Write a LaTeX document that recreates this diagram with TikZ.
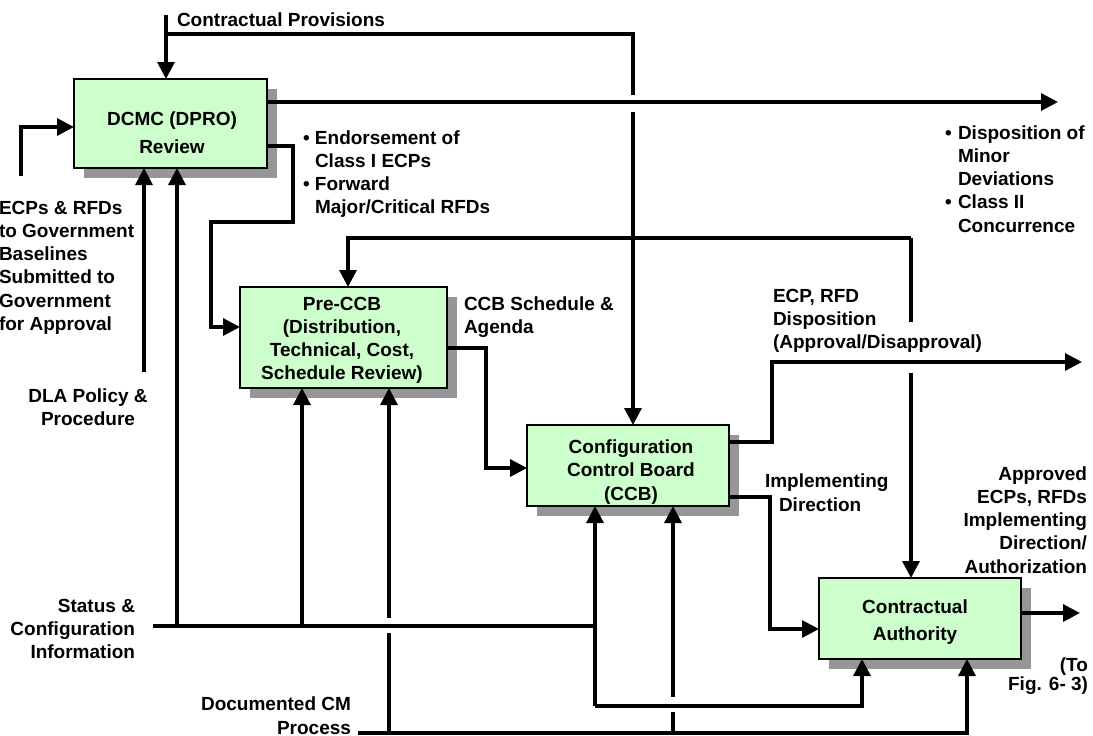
\documentclass[tikz,border=0pt]{standalone}
\usepackage{fontspec}
\setmainfont{Liberation Sans}
\usetikzlibrary{arrows.meta,shadows}
\definecolor{boxgreen}{RGB}{204,255,204}
\definecolor{shadowgray}{RGB}{150,150,150}
% bullet with hanging indent for the list labels
\newcommand{\itembul}[1][12pt]{\makebox[#1][l]{\textbullet}}
\newcommand{\itemind}[1][12pt]{\hspace*{#1}}
\begin{document}
\begin{tikzpicture}[x=1pt,y=-1pt,
  every node/.style={inner sep=0pt, outer sep=0pt},
  lbl/.style={font=\bfseries\fontsize{19}{23.3}\selectfont},
  box/.style={draw=black, line width=1.3pt, fill=boxgreen,
    drop shadow={shadow xshift=10pt, shadow yshift=-10pt, fill=shadowgray, opacity=1}},
  wire/.style={line width=3.2pt},
  flow/.style={wire, -{Triangle[length=17pt,width=17pt]}},
  gap/.style={fill=white}
]
\fill[white] (0,0) rectangle (1093,736);
\useasboundingbox (0,0) rectangle (1093,736);

% process boxes
\node[box, minimum width=193pt, minimum height=89pt] (dcmc) at (170.5,123.5) {};
\node[box, minimum width=207pt, minimum height=101pt] (preccb) at (343.5,337.5) {};
\node[box, minimum width=202pt, minimum height=81pt] (ccb) at (628,465.5) {};
\node[box, minimum width=202pt, minimum height=81pt] (ca) at (920,618.5) {};

% box titles (anchored on the baseline of their last line)
\node[lbl, align=center, anchor=base, font=\bfseries\fontsize{19}{28}\selectfont] (dcmcT) at (172,153) {DCMC (DPRO)\\Review};
\node[lbl, align=center, anchor=base, font=\bfseries\fontsize{19}{23}\selectfont] (preccbT) at (342,379) {Pre-CCB\\(Distribution,\\Technical, Cost,\\Schedule Review)};
\node[lbl, align=center, anchor=base, font=\bfseries\fontsize{19}{23.5}\selectfont] (ccbT) at (631,500) {Configuration\\Control Board\\(CCB)};
\node[lbl, align=center, anchor=base, font=\bfseries\fontsize{19}{27}\selectfont] (caT) at (915,640) {Contractual\\Authority};

% connector corner points
\coordinate (cpTop) at (166,15);
\coordinate (cpJ) at (166,34);
\coordinate (cpR) at (633,34);
\coordinate (dispEnd) at (1058,102);
\coordinate (fwA) at (293,146);
\coordinate (fwB) at (293,222);
\coordinate (fwC) at (211,222);
\coordinate (fwD) at (211,327);
\coordinate (ecpIn) at (21,176);
\coordinate (ecpB) at (21,127);
\coordinate (dlaIn) at (144,372);
\coordinate (stIn) at (153,626);
\coordinate (stJ1) at (177,626);
\coordinate (stJ2) at (302,626);
\coordinate (stJ3) at (595,626);
\coordinate (stB) at (595,706);
\coordinate (stC) at (862,706);
\coordinate (cmIn) at (358,733);
\coordinate (cmJ1) at (389,733);
\coordinate (cmJ2) at (673,733);
\coordinate (cmC) at (967,733);
\coordinate (schA) at (486,348);
\coordinate (schB) at (486,468);
\coordinate (loopA) at (911,238);
\coordinate (loopB) at (348,238);
\coordinate (dispA) at (772,442);
\coordinate (dispB) at (772,362);
\coordinate (dispEnd2) at (1082,362);
\coordinate (impA) at (770,497);
\coordinate (impB) at (770,629);
\coordinate (caOut) at (1080,613);

% connectors
\draw[flow] (cpTop) -- (cpTop |- dcmc.north);
\draw[flow] (cpJ) -- (cpR) -- (cpR |- ccb.north);
\draw[flow] (dcmc.east |- dispEnd) -- (dispEnd);
\draw[flow] (dcmc.east |- fwA) -- (fwA) -- (fwB) -- (fwC) -- (fwD) -- (preccb.west |- fwD);
\draw[flow] (ecpIn) -- (ecpB) -- (dcmc.west |- ecpB);
\draw[flow] (dlaIn) -- (dlaIn |- dcmc.south);
\draw[wire] (stIn) -- (stJ3) -- (stB);
\draw[flow] (stJ1) -- (stJ1 |- dcmc.south);
\draw[flow] (stJ2) -- (stJ2 |- preccb.south);
\draw[flow] (stB) -- (stB |- ccb.south);
\draw[flow] (stB) -- (stC) -- (stC |- ca.south);
\draw[flow] (cmIn) -- (cmC) -- (cmC |- ca.south);
\draw[flow] (cmJ1) -- (cmJ1 |- preccb.south);
\draw[flow] (cmJ2) -- (cmJ2 |- ccb.south);
\draw[flow] (preccb.east |- schA) -- (schA) -- (schB) -- (ccb.west |- schB);
\draw[flow] (loopA) -- (loopB) -- (loopB |- preccb.north);
\draw[flow] (loopA) -- (loopA |- ca.north);
\draw[flow] (ccb.east |- dispA) -- (dispA) -- (dispB) -- (dispEnd2);
\draw[flow] (ccb.east |- impA) -- (impA) -- (impB) -- (ca.west |- impB);
\draw[flow] (ca.east |- caOut) -- (caOut);

% breaks where a line passes under a crossing line
\fill[gap] (631,95) rectangle (635,100.2);
\fill[gap] (631,103.8) rectangle (635,112);
\fill[gap] (909,322) rectangle (913,360.2);
\fill[gap] (909,363.8) rectangle (913,373);
\fill[gap] (387,618) rectangle (391,624.2);
\fill[gap] (387,627.8) rectangle (391,633);
\fill[gap] (671,697) rectangle (675,704.2);
\fill[gap] (671,707.8) rectangle (675,712);

% labels (multi-line ones anchored on the baseline of their last line)
\node[lbl, anchor=base west] (tCP) at (177,27) {Contractual Provisions};
\node[lbl, anchor=base west, align=left] (tEnd) at (303,213.9)
  {\itembul Endorsement of\\\itemind Class I ECPs\\\itembul Forward\\\itemind Major/Critical RFDs};
\node[lbl, anchor=base west, align=left] (tDisp) at (945,232.2)
  {\itembul[13pt]Disposition of\\\itemind[13pt]Minor\\\itemind[13pt]Deviations\\\itembul[13pt]Class II\\\itemind[13pt]Concurrence};
\node[lbl, anchor=base west, align=left] (tECP) at (-1,330.5)
  {ECPs \& RFDs\\to Government\\Baselines\\Submitted to\\Government\\for Approval};
\node[lbl, anchor=base, align=center] (tDLA) at (88,425.3) {DLA Policy \&\\Procedure};
\node[lbl, anchor=base west, align=left] (tSch) at (464,333.3) {CCB Schedule \&\\Agenda};
\node[lbl, anchor=base east, align=right] (tStat) at (135,658.6) {Status \&\\Configuration\\Information};
\node[lbl, anchor=base east, align=right] (tDoc) at (351,734) {Documented CM\\Process};
\node[lbl, anchor=base west, align=left] (tDec) at (773,348.6) {ECP, RFD\\Disposition\\(Approval/Disapproval)};
\node[lbl, anchor=base west, align=left] (tImp) at (765,511) {Implementing\\\itemind[14pt]Direction};
\node[lbl, anchor=base east, align=right] (tAppr) at (1087,573.2)
  {Approved\\ECPs, RFDs\\Implementing\\Direction/\\Authorization};
\node[lbl, anchor=base east, align=right, font=\bfseries\fontsize{19}{19}\selectfont] (tFig) at (1088,690) {(To\\Fig. 6- 3)};
\end{tikzpicture}
\end{document}
